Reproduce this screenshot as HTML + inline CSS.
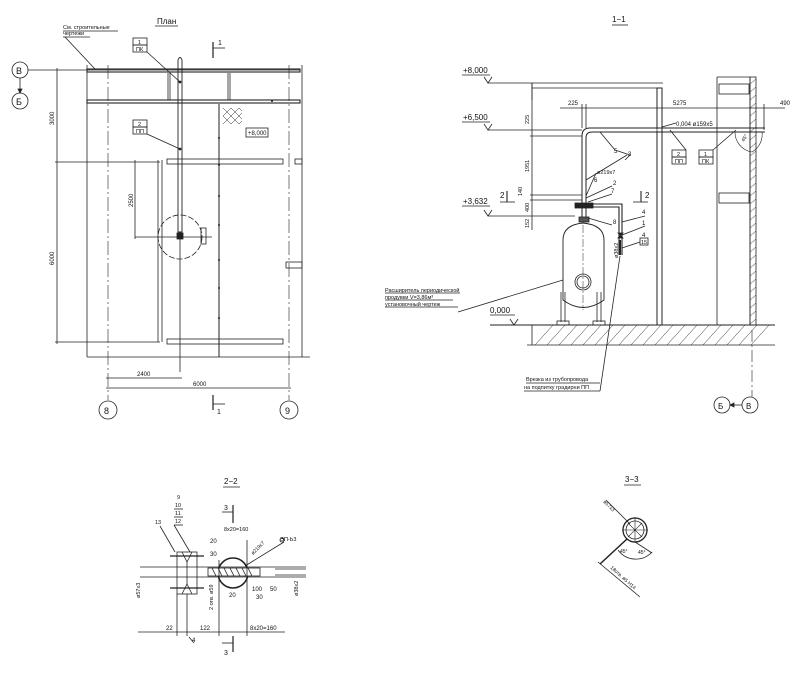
<!DOCTYPE html>
<html><head><meta charset="utf-8"><style>
html,body{margin:0;padding:0;background:#fff}
svg{display:block}
text{font-family:"Liberation Sans",sans-serif;fill:#111}
</style></head><body>
<svg width="800" height="676" viewBox="0 0 800 676" xmlns="http://www.w3.org/2000/svg" stroke="#222" fill="none" stroke-width="0.8">
<!-- ============ PLAN ============ -->
<text x="157" y="24" font-size="8" stroke="none">План</text>
<line x1="155" y1="26" x2="178" y2="26"/>
<text x="63" y="29" font-size="5.5" stroke="none">См. строительные</text>
<line x1="63" y1="31" x2="118" y2="31"/>
<text x="63" y="35" font-size="5.5" stroke="none">чертежи</text>
<line x1="63" y1="37" x2="90" y2="37"/>
<line x1="65" y1="37" x2="95" y2="69"/>
<circle cx="20" cy="70" r="8"/><text x="16" y="74" font-size="9" stroke="none">В</text>
<circle cx="20" cy="101" r="8"/><text x="16" y="105" font-size="9" stroke="none">Б</text>
<line x1="20" y1="78" x2="20" y2="93"/><path d="M18,89 L20,93 L22,89Z" fill="#222"/>
<line x1="28" y1="70" x2="300" y2="70"/>
<!-- beams -->
<rect x="87" y="69" width="213" height="3" stroke-width="1.1"/>
<rect x="87" y="100" width="213" height="3" stroke-width="1.1"/>
<line x1="168" y1="73" x2="168" y2="100"/><line x1="170" y1="73" x2="170" y2="100"/>
<line x1="228" y1="73" x2="228" y2="100"/><line x1="230" y1="73" x2="230" y2="100"/>
<line x1="87" y1="65" x2="87" y2="357"/>
<line x1="302" y1="65" x2="302" y2="357"/>
<line x1="87" y1="357" x2="310" y2="357"/>
<line x1="108" y1="65" x2="108" y2="400" stroke-dasharray="14,3,2,3" stroke-width="0.6"/>
<line x1="289" y1="65" x2="289" y2="400" stroke-dasharray="14,3,2,3" stroke-width="0.6"/>
<line x1="219" y1="104" x2="219" y2="357" stroke-width="1"/>
<g fill="#222" stroke="none"><circle cx="219" cy="138" r="1"/><circle cx="219" cy="165" r="1"/><circle cx="219" cy="196" r="1"/><circle cx="219" cy="225" r="1"/><circle cx="219" cy="260" r="1"/><circle cx="219" cy="288" r="1"/><circle cx="219" cy="318" r="1"/><circle cx="272" cy="101" r="1"/></g>
<!-- secondary beams -->
<line x1="55" y1="162" x2="160" y2="162"/>
<rect x="167" y="159" width="116" height="5"/>
<rect x="295" y="159" width="7" height="5"/>
<line x1="55" y1="342" x2="160" y2="342"/>
<rect x="167" y="339" width="116" height="5"/>
<line x1="158" y1="160" x2="158" y2="342"/><line x1="162" y1="160" x2="162" y2="342"/>
<rect x="286" y="262" width="16" height="6"/>
<!-- pipe -->
<path d="M178,60 Q180,55 182,60 L182,232 L178,232 Z" stroke-width="0.9"/>
<line x1="180" y1="232" x2="180" y2="372"/>
<rect x="177" y="233" width="6" height="6" fill="#222"/>
<circle cx="180" cy="82" r="1" fill="#222"/><circle cx="180" cy="149" r="1" fill="#222"/>
<circle cx="180" cy="237" r="22" stroke-dasharray="6,2"/>
<line x1="135" y1="237" x2="212" y2="237"/>
<rect x="201" y="228" width="5" height="16"/>
<!-- boxes -->
<rect x="133" y="38" width="14" height="7"/><rect x="133" y="45" width="14" height="7"/>
<text x="138" y="44" font-size="5.5" stroke="none">1</text><text x="136" y="51" font-size="5.5" stroke="none">ПК</text>
<line x1="147" y1="52" x2="180" y2="82"/>
<rect x="133" y="120" width="14" height="7"/><rect x="133" y="127" width="14" height="7"/>
<text x="138" y="126" font-size="5.5" stroke="none">2</text><text x="136" y="133" font-size="5.5" stroke="none">ПП</text>
<line x1="147" y1="134" x2="180" y2="149"/>
<g stroke-width="0.5"><path d="M223,108 l4,4 l4,-4 l4,4 l4,-4 l3,3 M223,116 l4,-4 l4,4 l4,-4 l4,4 l3,-3 M223,116 l4,4 l4,-4 l4,4 l4,-4 l3,3 M223,124 l4,-4 l4,4 l4,-4 l4,4 l3,-3"/></g>
<rect x="246" y="128" width="22" height="9"/>
<text x="248" y="135" font-size="6" stroke="none">+8,000</text>
<!-- dims -->
<line x1="57" y1="68" x2="57" y2="344"/>
<text transform="translate(54,125) rotate(-90)" font-size="6" stroke="none">3000</text>
<text transform="translate(54,265) rotate(-90)" font-size="6" stroke="none">6000</text>
<line x1="135" y1="160" x2="135" y2="239"/>
<text transform="translate(133,207) rotate(-90)" font-size="6" stroke="none">2500</text>
<line x1="106" y1="378" x2="182" y2="378"/><text x="137" y="376" font-size="6" stroke="none">2400</text>
<line x1="106" y1="388" x2="291" y2="388"/><text x="193" y="386" font-size="6" stroke="none">6000</text>
<circle cx="108" cy="410" r="9"/><text x="104" y="414" font-size="9" stroke="none">8</text>
<circle cx="289" cy="410" r="9"/><text x="285" y="414" font-size="9" stroke="none">9</text>
<line x1="213" y1="42" x2="213" y2="58" stroke-width="1.2"/><line x1="213" y1="48" x2="225" y2="48"/><text x="218" y="45" font-size="7" stroke="none">1</text>
<line x1="213" y1="395" x2="213" y2="410" stroke-width="1.2"/><line x1="213" y1="404" x2="225" y2="404"/><text x="217" y="414" font-size="7" stroke="none">1</text>

<!-- ============ SECTION 1-1 ============ -->
<text x="612" y="22" font-size="8" stroke="none">1−1</text>
<line x1="612" y1="25" x2="628" y2="25"/>
<text x="463" y="73" font-size="8" stroke="none">+8,000</text><line x1="462" y1="75" x2="490" y2="75"/>
<path d="M484,77 L488,83 L492,77"/>
<line x1="488" y1="83" x2="663" y2="83"/><line x1="532" y1="88" x2="657" y2="88"/>
<line x1="532" y1="83" x2="532" y2="100"/>
<text x="463" y="120" font-size="8" stroke="none">+6,500</text><line x1="462" y1="122" x2="490" y2="122"/>
<path d="M484,124 L488,130 L492,124"/><line x1="488" y1="130" x2="582" y2="130"/>
<text x="463" y="204" font-size="8" stroke="none">+3,632</text><line x1="462" y1="206" x2="490" y2="206"/>
<path d="M484,210 L488,216 L492,210"/><line x1="488" y1="216" x2="575" y2="216"/>
<text x="490" y="313" font-size="8" stroke="none">0,000</text><line x1="490" y1="315" x2="515" y2="315"/>
<path d="M510,319 L514,325 L518,319"/>
<!-- columns -->
<rect x="657" y="88" width="5" height="237" stroke-width="1"/>
<line x1="659.5" y1="95" x2="659.5" y2="322" stroke="#fff" stroke-dasharray="3,8" stroke-width="1.5"/>
<line x1="717" y1="77" x2="717" y2="325"/>
<line x1="750" y1="77" x2="750" y2="325"/>
<rect x="750" y="77" width="6" height="248" stroke-width="0.8"/>
<path d="M750,84 l6,-5 M750,92 l6,-5 M750,100 l6,-5 M750,108 l6,-5 M750,116 l6,-5 M750,124 l6,-5 M750,132 l6,-5 M750,140 l6,-5 M750,148 l6,-5 M750,156 l6,-5 M750,164 l6,-5 M750,172 l6,-5 M750,180 l6,-5 M750,188 l6,-5 M750,196 l6,-5 M750,204 l6,-5 M750,212 l6,-5 M750,220 l6,-5 M750,228 l6,-5 M750,236 l6,-5 M750,244 l6,-5 M750,252 l6,-5 M750,260 l6,-5 M750,268 l6,-5 M750,276 l6,-5 M750,284 l6,-5 M750,292 l6,-5 M750,300 l6,-5 M750,308 l6,-5 M750,316 l6,-5 M750,324 l6,-5" stroke-width="0.5"/>
<line x1="717" y1="77" x2="750" y2="77"/>
<rect x="719" y="84" width="30" height="10"/><rect x="719" y="193" width="30" height="10"/>
<!-- pipe -->
<path d="M582,220 L582,136 Q582,128 590,128 L765,128 M586,220 L586,138 Q586,132 592,132 L765,132" stroke-width="1"/>
<line x1="600" y1="130" x2="760" y2="130" stroke="#fff" stroke-dasharray="4,10"/>
<path d="M735,132 A20,20 0 0 0 752,152 A20,20 0 0 0 762,132" stroke-width="0.6"/>
<text transform="translate(744,142) rotate(-60)" font-size="5" stroke="none">45°</text>
<rect x="575" y="203" width="18" height="5" fill="#222"/>
<rect x="579" y="217" width="10" height="5" fill="#555"/>
<path d="M593,204 L622,204 L622,255 M593,207 L619,207 L619,255" stroke-width="1.1"/>
<path d="M618,233 l5,5 l-5,0 l5,-5z" fill="#222"/>
<line x1="620" y1="240" x2="620" y2="255" stroke-width="2"/>
<!-- tank -->
<path d="M563,300 L563,240 Q563,225 583,223 Q604,225 604,240 L604,300 Q583,315 563,300 Z" stroke-width="0.9"/>
<line x1="583" y1="225" x2="583" y2="310" stroke-dasharray="8,2,2,2" stroke-width="0.5"/>
<circle cx="583" cy="282" r="8"/><circle cx="583" cy="282" r="6"/>
<path d="M561,292 L561,322 M565,292 L565,322 M597,292 L597,322 M601,292 L601,322"/>
<rect x="557" y="321" width="12" height="4"/><rect x="593" y="321" width="12" height="4"/>
<!-- ground -->
<line x1="490" y1="325" x2="775" y2="325" stroke-width="1"/>
<line x1="527" y1="345" x2="775" y2="345"/>
<line x1="532" y1="325" x2="532" y2="345"/>
<path d="M535,345 l18,-20 M547,345 l18,-20 M559,345 l18,-20 M571,345 l18,-20 M583,345 l18,-20 M595,345 l18,-20 M607,345 l18,-20 M619,345 l18,-20 M631,345 l18,-20 M643,345 l18,-20 M655,345 l18,-20 M667,345 l18,-20 M679,345 l18,-20 M691,345 l18,-20 M703,345 l18,-20 M715,345 l18,-20 M727,345 l18,-20 M739,345 l18,-20 M751,345 l18,-20" stroke-width="0.5"/>
<line x1="752" y1="330" x2="752" y2="397" stroke-dasharray="12,3,2,3" stroke-width="0.6"/>
<circle cx="722" cy="405" r="8"/><text x="718" y="409" font-size="8" stroke="none">Б</text>
<circle cx="750" cy="405" r="8"/><text x="746" y="409" font-size="8" stroke="none">В</text>
<line x1="730" y1="405" x2="742" y2="405"/><path d="M734,403 L730,405 L734,407Z" fill="#222"/>
<!-- dims 1-1 -->
<line x1="532" y1="83" x2="532" y2="230"/>
<text transform="translate(529,124) rotate(-90)" font-size="5.5" stroke="none">225</text>
<text transform="translate(529,172) rotate(-90)" font-size="5.5" stroke="none">1951</text>
<text transform="translate(522,196) rotate(-90)" font-size="5.5" stroke="none">140</text>
<text transform="translate(529,212) rotate(-90)" font-size="5.5" stroke="none">400</text>
<text transform="translate(529,228) rotate(-90)" font-size="5.5" stroke="none">152</text>
<line x1="530" y1="136" x2="582" y2="136"/><line x1="530" y1="195" x2="582" y2="195"/><line x1="530" y1="200" x2="582" y2="200"/>
<line x1="560" y1="108" x2="785" y2="108"/>
<text x="568" y="105" font-size="6" stroke="none">225</text>
<text x="673" y="105" font-size="6" stroke="none">5275</text>
<text x="780" y="105" font-size="6" stroke="none">490</text>
<line x1="582" y1="104" x2="582" y2="128"/><line x1="586" y1="104" x2="586" y2="128"/><line x1="764" y1="104" x2="764" y2="130"/>
<text x="676" y="126" font-size="6" stroke="none">0,004  ø159x5</text>
<line x1="662" y1="127" x2="676" y2="123"/>
<!-- tags -->
<rect x="672" y="150" width="14" height="7"/><rect x="672" y="157" width="14" height="7"/>
<text x="677" y="156" font-size="5.5" stroke="none">2</text><text x="675" y="163" font-size="5.5" stroke="none">ПП</text>
<line x1="686" y1="150" x2="670" y2="130"/>
<rect x="699" y="150" width="14" height="7"/><rect x="699" y="157" width="14" height="7"/>
<text x="704" y="156" font-size="5.5" stroke="none">1</text><text x="702" y="163" font-size="5.5" stroke="none">ПК</text>
<line x1="713" y1="150" x2="736" y2="130"/>
<line x1="600" y1="132" x2="615" y2="150"/><line x1="615" y1="150" x2="630" y2="155"/><line x1="630" y1="155" x2="625" y2="160"/>
<text x="614" y="153" font-size="6" stroke="none">5</text><text x="628" y="156" font-size="6" stroke="none">3</text>
<line x1="586" y1="180" x2="627" y2="155"/>
<text x="594" y="182" font-size="6" stroke="none">6</text><text x="597" y="174" font-size="5.5" stroke="none">ø219x7</text>
<text x="613" y="185" font-size="6" stroke="none">2</text><text x="611" y="193" font-size="6" stroke="none">7</text>
<line x1="586" y1="196" x2="596" y2="173"/><line x1="586" y1="198" x2="612" y2="186"/><line x1="588" y1="202" x2="612" y2="194"/>
<text x="613" y="224" font-size="6" stroke="none">8</text><line x1="588" y1="218" x2="612" y2="225"/>
<text x="642" y="214" font-size="6" stroke="none">4</text><line x1="622" y1="222" x2="645" y2="216"/>
<text x="642" y="225" font-size="6" stroke="none">1</text><line x1="622" y1="235" x2="645" y2="226"/>
<text x="642" y="237" font-size="6" stroke="none">4</text>
<rect x="640" y="238" width="8" height="7"/><text x="641" y="244" font-size="5.5" stroke="none">15</text>
<line x1="622" y1="248" x2="640" y2="242"/>
<text transform="translate(618,258) rotate(-90)" font-size="5.5" stroke="none">ø38x2</text>
<line x1="507" y1="191" x2="507" y2="202" stroke-width="1.1"/><line x1="500" y1="202" x2="515" y2="202"/><text x="500" y="198" font-size="8" stroke="none">2</text>
<line x1="641" y1="191" x2="641" y2="202" stroke-width="1.1"/><line x1="633" y1="202" x2="648" y2="202"/><text x="645" y="198" font-size="8" stroke="none">2</text>
<text x="385" y="292" font-size="5.5" stroke="none">Расширитель периодической</text>
<line x1="385" y1="293" x2="460" y2="293"/>
<text x="385" y="299" font-size="5.5" stroke="none">продувки V=3,86м³</text>
<line x1="385" y1="300" x2="453" y2="300"/>
<text x="385" y="306" font-size="5.5" stroke="none">установочный чертеж</text>
<line x1="385" y1="307" x2="458" y2="307"/>
<line x1="458" y1="312" x2="563" y2="280"/>
<text x="526" y="381" font-size="5.5" stroke="none">Врезка из трубопровода</text>
<line x1="526" y1="383" x2="600" y2="383"/>
<text x="524" y="389" font-size="5.5" stroke="none">на подпитку градирни ПП</text>
<line x1="524" y1="391" x2="600" y2="391"/>
<line x1="600" y1="391" x2="620" y2="256"/>

<!-- ============ SECTION 2-2 ============ -->
<text x="224" y="484" font-size="8" stroke="none">2−2</text>
<line x1="223" y1="487" x2="240" y2="487"/>
<line x1="233" y1="505" x2="233" y2="523" stroke-width="1.2"/><line x1="222" y1="512" x2="233" y2="512"/><text x="224" y="510" font-size="7" stroke="none">3</text>
<line x1="233" y1="636" x2="233" y2="652" stroke-width="1.2"/><line x1="222" y1="643" x2="233" y2="643"/><text x="224" y="655" font-size="7" stroke="none">3</text>
<line x1="140" y1="567" x2="306" y2="567"/><line x1="140" y1="577" x2="306" y2="577"/>
<line x1="275" y1="569" x2="306" y2="569"/><line x1="275" y1="575" x2="306" y2="575"/>
<circle cx="233" cy="573" r="15" stroke-width="1.6"/>
<rect x="208" y="568" width="52" height="8" fill="#fff"/>
<path d="M212,568 l4,8 M218,568 l4,8 M224,568 l4,8 M230,568 l4,8 M236,568 l4,8 M242,568 l4,8 M248,568 l4,8" stroke-width="0.8"/>
<rect x="177" y="552" width="20" height="42"/>
<path d="M182,552 L187,562 L187,584 L182,594 M192,552 L187,562 M192,594 L187,584"/>
<line x1="170" y1="556" x2="204" y2="556" stroke-width="1.3"/><line x1="170" y1="588" x2="204" y2="588" stroke-width="1.3"/>
<text x="177" y="499" font-size="5.5" stroke="none">9</text>
<text x="175" y="507" font-size="5.5" stroke="none">10</text><line x1="174" y1="509" x2="183" y2="509"/>
<text x="175" y="515" font-size="5.5" stroke="none">11</text><line x1="174" y1="517" x2="183" y2="517"/>
<text x="175" y="523" font-size="5.5" stroke="none">12</text><line x1="174" y1="525" x2="183" y2="525"/>
<line x1="174" y1="525" x2="190" y2="552"/>
<text x="155" y="524" font-size="5.5" stroke="none">13</text><line x1="160" y1="526" x2="175" y2="552"/>
<text x="224" y="531" font-size="5.5" stroke="none">8x20=160</text>
<text x="210" y="543" font-size="6" stroke="none">20</text>
<text x="210" y="556" font-size="6" stroke="none">30</text>
<text x="280" y="541" font-size="5.5" stroke="none">ЭП-Ь3</text>
<line x1="245" y1="566" x2="284" y2="542"/><circle cx="282" cy="540" r="2"/>
<text transform="translate(253,555) rotate(-45)" font-size="5" stroke="none">ø219x7</text>
<text x="252" y="591" font-size="6" stroke="none">100</text><text x="270" y="591" font-size="6" stroke="none">50</text>
<text x="229" y="597" font-size="6" stroke="none">20</text><text x="256" y="599" font-size="6" stroke="none">30</text>
<text transform="translate(298,596) rotate(-90)" font-size="5.5" stroke="none">ø38x2</text>
<text transform="translate(140,598) rotate(-90)" font-size="5.5" stroke="none">ø57x3</text>
<text transform="translate(213,610) rotate(-90)" font-size="5.5" stroke="none">2 отв. ø59</text>
<line x1="138" y1="632" x2="285" y2="632"/>
<text x="166" y="630" font-size="6" stroke="none">22</text>
<text x="200" y="630" font-size="6" stroke="none">122</text>
<text x="250" y="630" font-size="6" stroke="none">8x20=160</text>
<line x1="177" y1="594" x2="177" y2="636"/><line x1="187" y1="594" x2="187" y2="636"/><line x1="219" y1="560" x2="219" y2="636"/><line x1="247" y1="540" x2="247" y2="636"/>
<line x1="189" y1="637" x2="194" y2="643"/><text x="192" y="642" font-size="6" stroke="none">4</text>

<!-- ============ SECTION 3-3 ============ -->
<text x="625" y="482" font-size="8" stroke="none">3−3</text>
<line x1="624" y1="485" x2="641" y2="485"/>
<circle cx="635" cy="530" r="12" stroke-width="1.3"/><circle cx="635" cy="530" r="9"/>
<path d="M622,530 L648,530 M635,517 L635,543 M628,523 L642,537 M642,523 L628,537" stroke-width="0.6"/>
<line x1="606" y1="500" x2="630" y2="524"/>
<text transform="translate(603,502) rotate(45)" font-size="5" stroke="none">ø57x3</text>
<line x1="627" y1="539" x2="600" y2="564" stroke-width="1.5"/>
<line x1="635" y1="542" x2="652" y2="553"/>
<path d="M618,550 A22,22 0 0 0 652,552"/>
<text x="620" y="553" font-size="5" stroke="none">45°</text><text x="638" y="554" font-size="5" stroke="none">45°</text>
<line x1="598" y1="562" x2="640" y2="597"/>
<text transform="translate(610,568) rotate(42)" font-size="5" stroke="none">18отв. ø5 Н14</text>
</svg>
</body></html>
